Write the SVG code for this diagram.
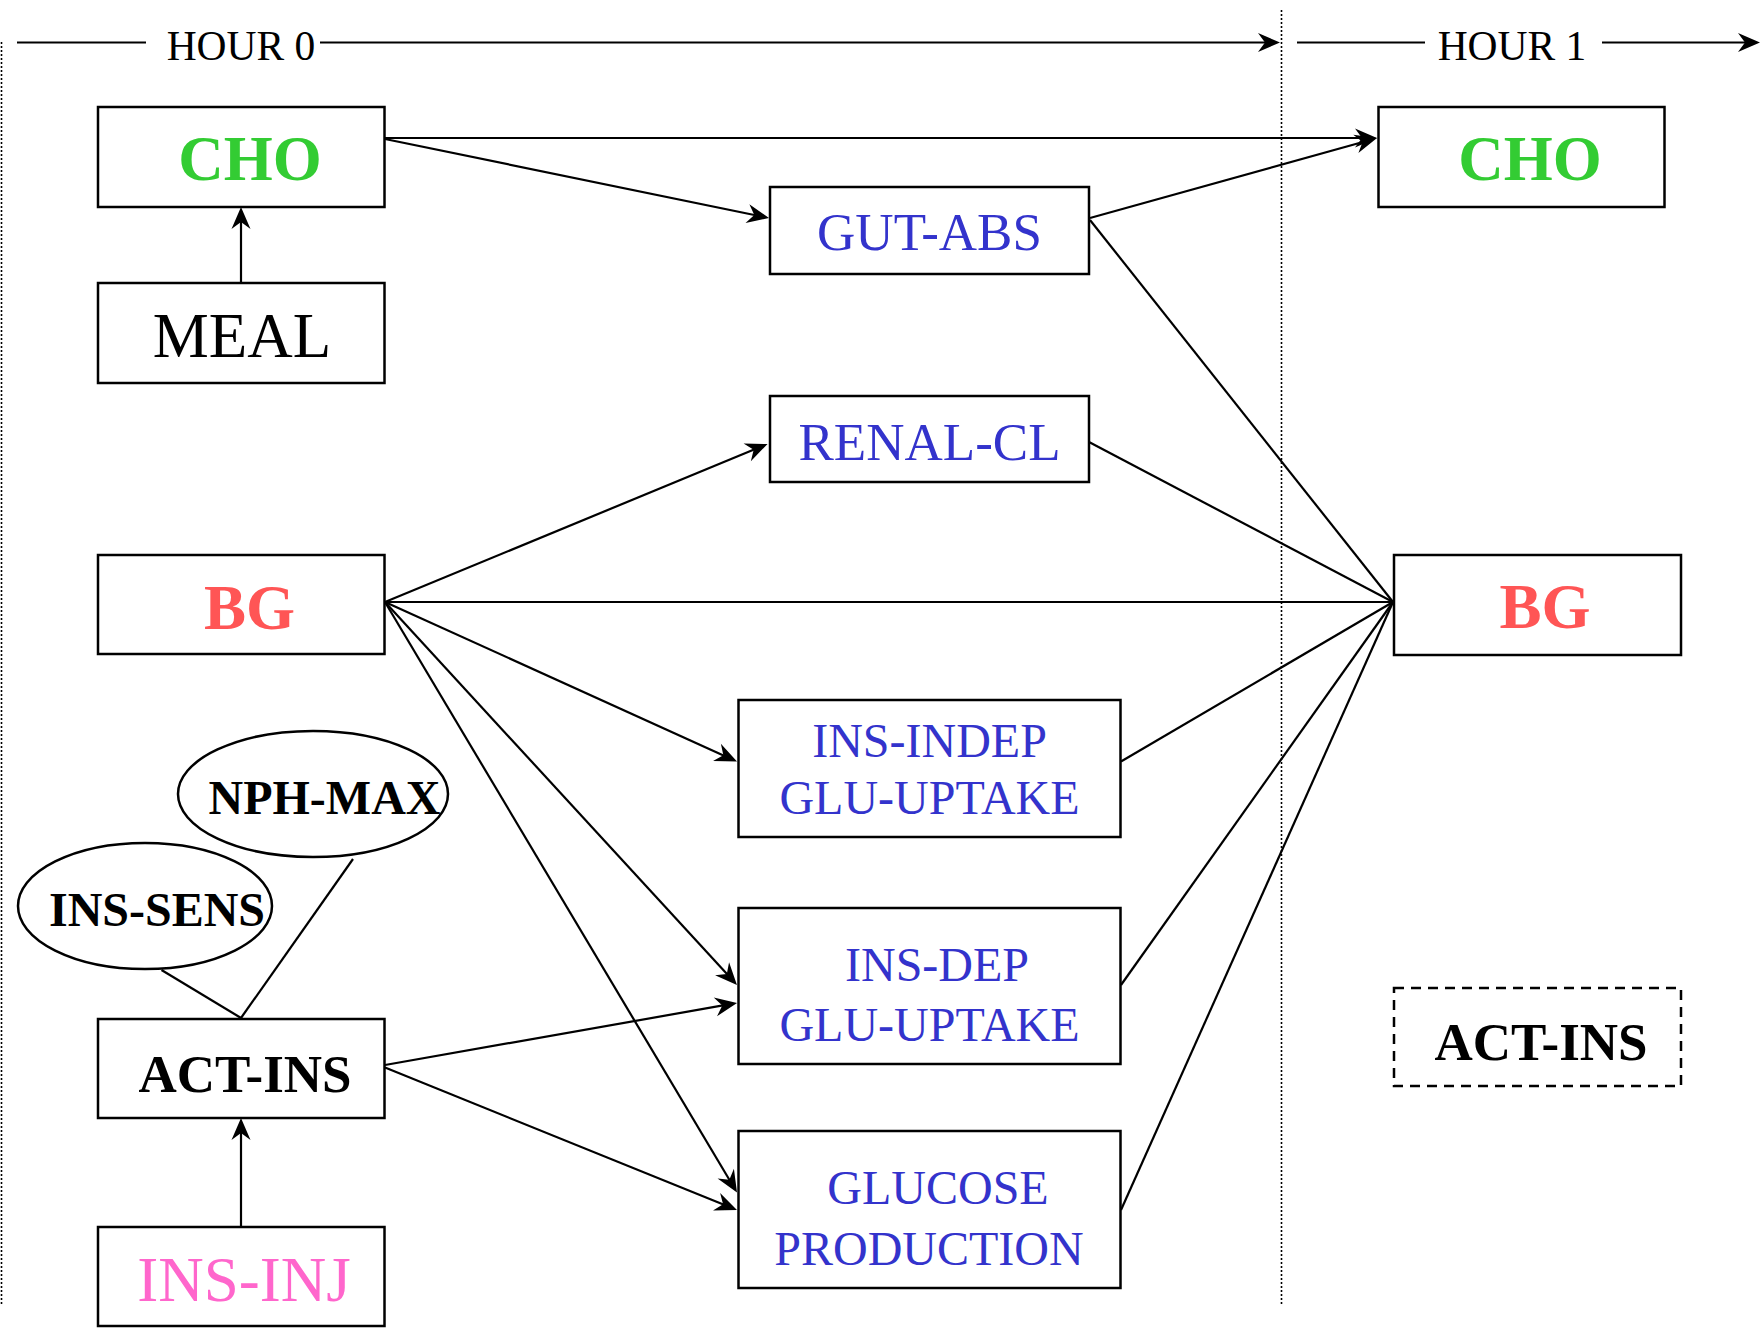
<svg xmlns="http://www.w3.org/2000/svg" width="1762" height="1328" viewBox="0 0 1762 1328">
<style>
.box{fill:#fff;stroke:#000;stroke-width:2.5}
.dash{fill:#fff;stroke:#000;stroke-width:2.5;stroke-dasharray:10 7}
.ell{fill:#fff;stroke:#000;stroke-width:2.5}
.ln{stroke:#000;stroke-width:2.2;fill:none}
.arr{stroke:#000;stroke-width:2.2;fill:none;marker-end:url(#ah)}
.dot{stroke:#000;stroke-width:1.6;stroke-dasharray:2 2;fill:none}
text{font-family:"Liberation Serif","Times New Roman",serif;text-anchor:middle}
.hr{font-size:41.5px;fill:#000}
.big{font-size:63px}
.mid{font-size:53px}
.sm{font-size:48px}
.b{font-weight:bold}
.green{fill:#33cc33}
.blue{fill:#3333cc}
.red{fill:#ff5555}
.pink{fill:#ff66cc}
.blk{fill:#000}
</style>
<defs>
<marker id="ah" markerUnits="userSpaceOnUse" orient="auto" viewBox="-14 -12 26 24" markerWidth="26" markerHeight="24" refX="0" refY="0">
<path d="M10,0 L-12,-9.5 L-5,0 L-12,9.5 Z" fill="#000"/>
</marker>
</defs>
<rect width="1762" height="1328" fill="#fff"/>
<g id="timeline">
<line class="dot" x1="1.5" y1="42" x2="1.5" y2="1306"/>
<line class="dot" x1="1281.5" y1="10" x2="1281.5" y2="1306"/>
<line class="ln" x1="17" y1="42.5" x2="146" y2="42.5"/>
<text class="hr" x="241" y="60">HOUR 0</text>
<line class="arr" x1="320" y1="42.5" x2="1270" y2="42.5"/>
<line class="ln" x1="1297" y1="42.5" x2="1425" y2="42.5"/>
<text class="hr" x="1512" y="60">HOUR 1</text>
<line class="arr" x1="1602" y1="42.5" x2="1750" y2="42.5"/>
</g>
<g id="connectors">
<line class="arr" x1="241" y1="283" x2="241" y2="217"/>
<line class="arr" x1="385" y1="139" x2="759.2" y2="216"/>
<line class="arr" x1="385" y1="138" x2="1367" y2="138"/>
<line class="arr" x1="1090" y1="218" x2="1367.4" y2="140.7"/>
<line class="arr" x1="385" y1="602" x2="758.3" y2="447.8"/>
<line class="ln" x1="385" y1="602" x2="1393" y2="602"/>
<line class="arr" x1="385" y1="602" x2="727.9" y2="757.4"/>
<line class="arr" x1="385" y1="602" x2="730.2" y2="977.6"/>
<line class="arr" x1="385" y1="602" x2="731.9" y2="1184"/>
<line class="arr" x1="385" y1="1065" x2="727.2" y2="1004.7"/>
<line class="arr" x1="385" y1="1067.6" x2="727.7" y2="1206.2"/>
<line class="arr" x1="241" y1="1227" x2="241" y2="1128"/>
<line class="ln" x1="1090" y1="220" x2="1393" y2="602"/>
<line class="ln" x1="1089" y1="442" x2="1393" y2="602"/>
<line class="ln" x1="1121" y1="761.5" x2="1393" y2="602"/>
<line class="ln" x1="1121" y1="985" x2="1393" y2="602"/>
<line class="ln" x1="1121" y1="1210" x2="1393" y2="602"/>
<line class="ln" x1="161.5" y1="970" x2="241" y2="1018"/>
<line class="ln" x1="353" y1="859" x2="241" y2="1018"/>
</g>
<g id="cho0">
<rect class="box" x="98" y="107" width="286.5" height="100"/>
<text class="big b green" x="250" y="180">CHO</text>
</g>
<g id="meal">
<rect class="box" x="98" y="283" width="286.5" height="100"/>
<text class="big blk" x="242" y="357">MEAL</text>
</g>
<g id="gutabs">
<rect class="box" x="770" y="187" width="319" height="87"/>
<text class="mid blue" x="929.5" y="250">GUT-ABS</text>
</g>
<g id="cho1">
<rect class="box" x="1378.5" y="107" width="286" height="100"/>
<text class="big b green" x="1530" y="180">CHO</text>
</g>
<g id="renalcl">
<rect class="box" x="770" y="396" width="319" height="86"/>
<text class="mid blue" x="929.5" y="460">RENAL-CL</text>
</g>
<g id="bg0">
<rect class="box" x="98" y="555" width="286.5" height="99"/>
<text class="big b red" x="249.5" y="629">BG</text>
</g>
<g id="bg1">
<rect class="box" x="1394" y="555" width="287" height="100"/>
<text class="big b red" x="1545" y="628">BG</text>
</g>
<g id="insindep">
<rect class="box" x="738.5" y="700" width="382" height="137"/>
<text class="sm blue" x="929.5" y="757">INS-INDEP</text>
<text class="sm blue" x="929.5" y="814">GLU-UPTAKE</text>
</g>
<g id="insdep">
<rect class="box" x="738.5" y="908" width="382" height="156"/>
<text class="sm blue" x="937" y="981">INS-DEP</text>
<text class="sm blue" x="929.5" y="1041">GLU-UPTAKE</text>
</g>
<g id="glucoseprod">
<rect class="box" x="738.5" y="1131" width="382" height="157"/>
<text class="sm blue" x="938" y="1204">GLUCOSE</text>
<text class="sm blue" x="929" y="1265">PRODUCTION</text>
</g>
<g id="nphmax">
<ellipse class="ell" cx="313" cy="794" rx="135" ry="63"/>
<text class="sm b blk" x="324.5" y="814">NPH-MAX</text>
</g>
<g id="inssens">
<ellipse class="ell" cx="145" cy="906" rx="127" ry="63"/>
<text class="sm b blk" x="157" y="925.5">INS-SENS</text>
</g>
<g id="actins0">
<rect class="box" x="98" y="1019" width="286.5" height="99"/>
<text class="mid b blk" x="245" y="1092">ACT-INS</text>
</g>
<g id="insinj">
<rect class="box" x="98" y="1227" width="286.5" height="99"/>
<text class="big pink" x="244" y="1301">INS-INJ</text>
</g>
<g id="actins1">
<rect class="dash" x="1394" y="988" width="287" height="98"/>
<text class="mid b blk" x="1541" y="1060">ACT-INS</text>
</g>
</svg>
